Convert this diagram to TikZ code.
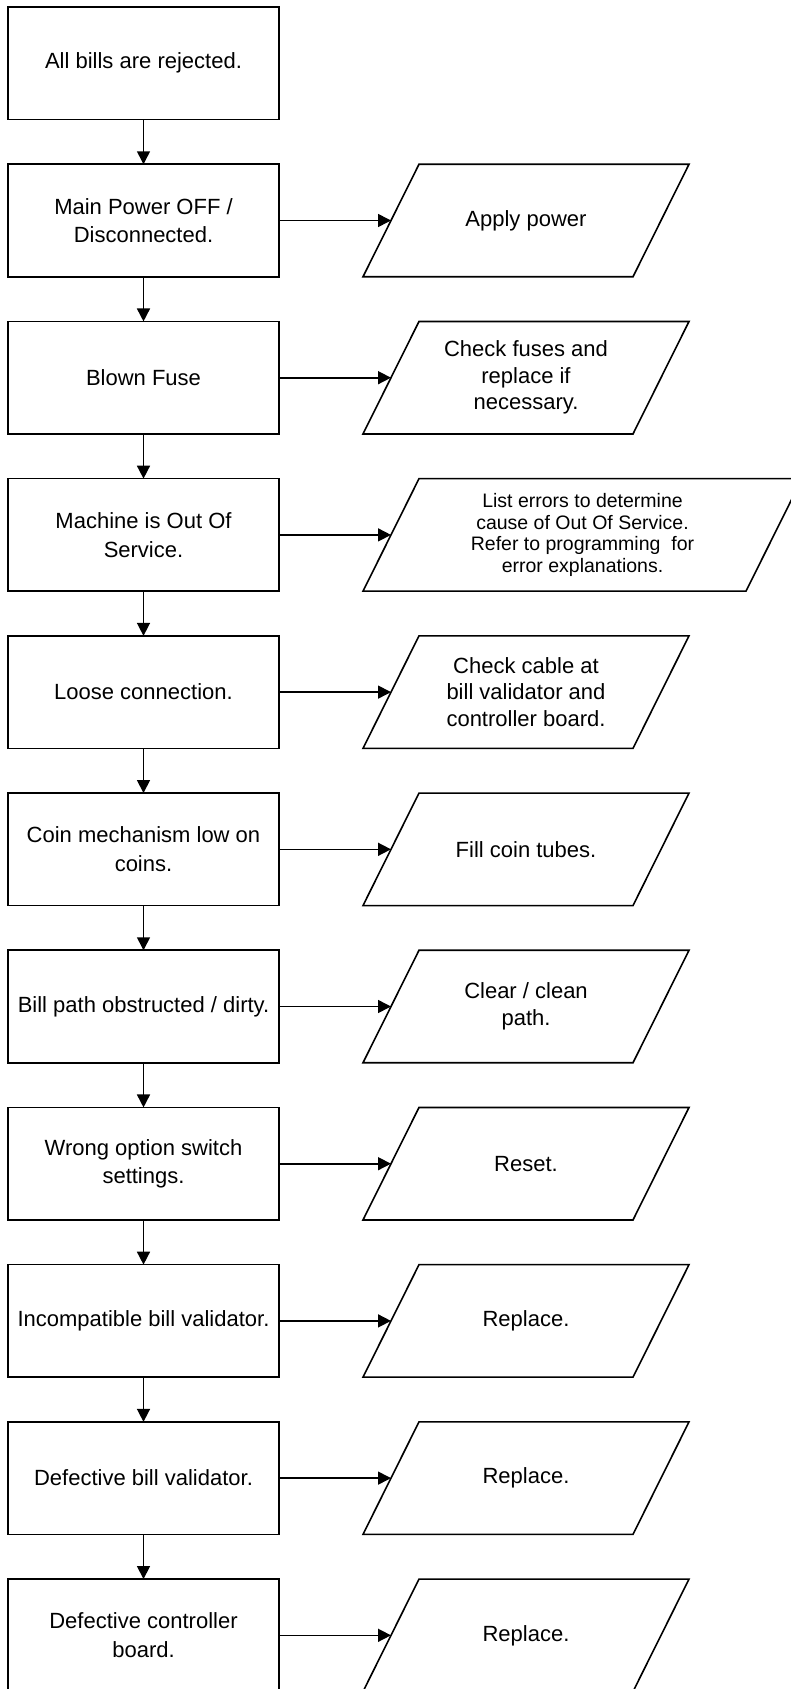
\documentclass[tikz,border=0pt]{standalone}
\usepackage{fontspec}
\setmainfont{Liberation Sans}
\usetikzlibrary{arrows.meta}
\begin{document}
\begin{tikzpicture}[x=1pt,y=-1pt,
  every node/.style={inner sep=0pt, outer sep=0pt, align=center},
  stepbox/.style={draw, line width=1.6pt, minimum width=271pt, minimum height=112.5pt, font=\fontsize{22}{28.5}\selectfont},
  iobox/.style={minimum width=270pt, minimum height=112.5pt, font=\fontsize{22}{26.5}\selectfont},
  smalltext/.style={font=\fontsize{19.5}{21.7}\selectfont},
  flow/.style={line width=1.6pt, -{Triangle[length=13pt,width=13pt]}},
  outline/.style={line width=1.6pt}
]
\useasboundingbox (0,0) rectangle (790,1689);
% process boxes
\node[stepbox] (b0) at (143.5,63.3) {All bills are rejected.};
\node[stepbox] (b1) at (143.5,220.5) {Main Power OFF /\\Disconnected.};
\node[stepbox] (b2) at (143.5,377.7) {Blown Fuse};
\node[stepbox] (b3) at (143.5,534.9) {Machine is Out Of\\Service.};
\node[stepbox] (b4) at (143.5,692.1) {Loose connection.};
\node[stepbox] (b5) at (143.5,849.3) {Coin mechanism low on\\coins.};
\node[stepbox] (b6) at (143.5,1006.5) {Bill path obstructed / dirty.};
\node[stepbox] (b7) at (143.5,1163.7) {Wrong option switch\\settings.};
\node[stepbox] (b8) at (143.5,1320.9) {Incompatible bill validator.};
\node[stepbox] (b9) at (143.5,1478.1) {Defective bill validator.};
\node[stepbox] (b10) at (143.5,1635.3) {Defective controller\\board.};
% action parallelograms (node = mid-height rectangle)
\node[iobox] (p1) at (526,220.5) {Apply power};
\node[iobox] (p2) at (526,377.7) {Check fuses and\\replace if\\necessary.};
\node[iobox, minimum width=383pt, smalltext] (p3) at (582.5,534.9) {List errors to determine\\cause of Out Of Service.\\Refer to programming\ \ for\\error explanations.};
\node[iobox] (p4) at (526,692.1) {Check cable at\\bill validator and\\controller board.};
\node[iobox] (p5) at (526,849.3) {Fill coin tubes.};
\node[iobox] (p6) at (526,1006.5) {Clear / clean\\path.};
\node[iobox] (p7) at (526,1163.7) {Reset.};
\node[iobox] (p8) at (526,1320.9) {Replace.};
\node[iobox] (p9) at (526,1478.1) {Replace.};
\node[iobox] (p10) at (526,1635.3) {Replace.};
\foreach \p in {p1,p2,p3,p4,p5,p6,p7,p8,p9,p10}{
  \draw[outline] ([xshift=-28pt]\p.south west) -- ([xshift=28pt]\p.north west)
    -- ([xshift=28pt]\p.north east) -- ([xshift=-28pt]\p.south east) -- cycle;
}
% connectors
\foreach \a/\b in {b0/b1,b1/b2,b2/b3,b3/b4,b4/b5,b5/b6,b6/b7,b7/b8,b8/b9,b9/b10}{
  \draw[flow] (\a.south) -- (\b.north);
}
\foreach \i in {1,...,10}{
  \draw[flow] (b\i.east) -- (p\i.west);
}
\end{tikzpicture}
\end{document}
